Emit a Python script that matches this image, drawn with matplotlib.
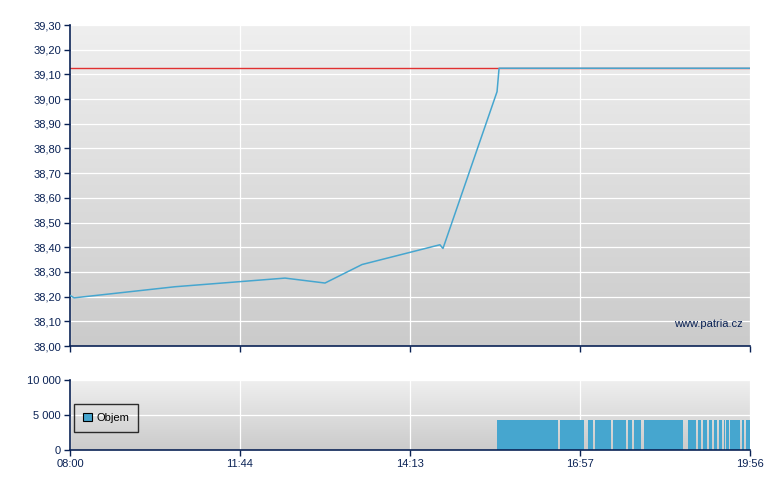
import numpy as np
import matplotlib
matplotlib.use('Agg')
from matplotlib import pyplot as plt
from matplotlib.colors import LinearSegmentedColormap

plt.rcParams['font.family'] = ['Liberation Sans', 'DejaVu Sans']

# x positions are in chart slots, one slot per tick interval (08:00 .. 19:56)
tick_labels = ['08:00', '11:44', '14:13', '16:57', '19:56']

price_x = [0.0, 0.024, 0.618, 1.265, 1.50, 1.718, 2.176, 2.194, 2.512, 2.524, 4.0]
price_y = [38.205, 38.195, 38.24, 38.275, 38.255, 38.33, 38.41, 38.395, 39.03, 39.125, 39.125]
prev_close = 39.125

vol_start = [2.512, 2.882, 3.047, 3.088, 3.194, 3.282, 3.318, 3.376, 3.635, 3.694,
             3.724, 3.759, 3.788, 3.818, 3.847, 3.859, 3.882, 3.953, 3.976]
vol_end = [2.871, 3.024, 3.076, 3.182, 3.271, 3.306, 3.359, 3.606, 3.682, 3.712,
           3.747, 3.776, 3.806, 3.835, 3.853, 3.876, 3.941, 3.965, 4.0]
vol_value = [4300] * len(vol_start)

navy = '#0a2255'
blue = '#46a6cf'
grad = LinearSegmentedColormap.from_list('bg', ['#cbcbcb', '#efefef'])


def style_axes(ax):
    img = np.linspace(1, 0, 256).reshape(-1, 1)
    ax.imshow(img, cmap=grad, extent=[0, 1, 0, 1], transform=ax.transAxes,
              aspect='auto', zorder=-10, origin='upper')
    ax.set_xlim(0, 4)
    ax.set_xticks(range(5))
    ax.set_axisbelow(True)
    ax.grid(True, color='white', linewidth=0.9)
    for s in ['top', 'right']:
        ax.spines[s].set_visible(False)
    for s in ['left', 'bottom']:
        ax.spines[s].set_color(navy)
        ax.spines[s].set_linewidth(1.2)
    ax.tick_params(colors=navy, labelcolor=navy, labelsize=8, length=4, width=1, pad=2.5)


fig = plt.figure(figsize=(7.8, 4.9), dpi=100)
ax = fig.add_axes([70 / 780, 1 - 346 / 490, 680 / 780, 321 / 490])
axv = fig.add_axes([70 / 780, 1 - 450 / 490, 680 / 780, 70 / 490])

style_axes(ax)
ax.axhline(prev_close, color='#e03030', linewidth=1, zorder=2)
ax.plot(price_x, price_y, color=blue, linewidth=1.1, zorder=3)
ax.set_ylim(38.0, 39.3)
yt = np.arange(38.0, 39.301, 0.1)
ax.set_yticks(yt)
ax.set_yticklabels([f'{v:.2f}'.replace('.', ',') for v in yt])
ax.set_xticklabels([])
ax.text(0.99, 0.068, 'www.patria.cz', transform=ax.transAxes, ha='right', va='center',
        color=navy, fontsize=8)

style_axes(axv)
widths = [e - s for s, e in zip(vol_start, vol_end)]
axv.bar(vol_start, vol_value, width=widths, align='edge', color=blue, linewidth=0,
        label='Objem', zorder=2)
axv.set_ylim(0, 10000)
axv.set_yticks([0, 5000, 10000])
axv.set_yticklabels(['0', '5 000', '10 000'])
axv.set_xticklabels(tick_labels)
leg = axv.legend(loc='lower left', bbox_to_anchor=(0.0, 0.2), fontsize=8,
                 frameon=True, fancybox=False, handlelength=0.8, handleheight=0.8,
                 handletextpad=0.4, borderpad=0.8, borderaxespad=0.4)
leg.get_frame().set_edgecolor('black')
leg.get_frame().set_facecolor('none')
leg.get_frame().set_linewidth(1)
for t in leg.get_texts():
    t.set_color('black')
leg.legend_handles[0].set_edgecolor('black')
leg.legend_handles[0].set_linewidth(0.8)

fig.savefig('out.png', dpi=100)
